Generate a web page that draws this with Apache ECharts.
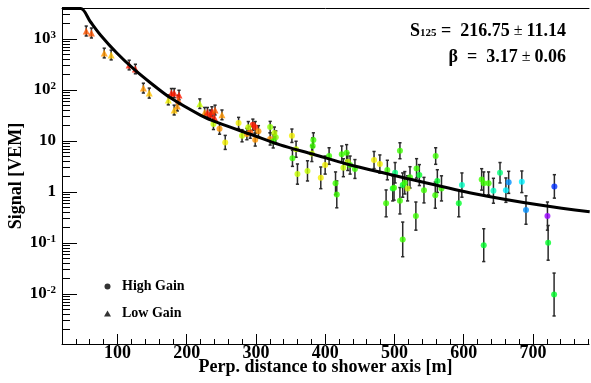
<!DOCTYPE html>
<html>
<head>
<meta charset="utf-8">
<script src="https://cdn.jsdelivr.net/npm/echarts@6/dist/echarts.min.js"></script>
<style>html,body{margin:0;padding:0;background:#fff}#c{width:591px;height:383px}</style>
</head>
<body>
<div id="c"></div>
<script>
// ---- data ----
const distance = [
  55, 62.5, 81, 91, 117, 126, 137.5, 146, 173.5, 178,
  182, 189, 188, 186.5, 182, 219, 226, 230, 236.5, 241,
  234, 240, 251, 238.7, 247.5, 255.7, 275, 280, 295.6, 299,
  303.7, 291.8, 289, 299, 287, 320.6, 326.7, 328.7, 320.6, 325,
  352, 358, 352.8, 360, 374.5, 380.8, 383, 382, 393.7, 400,
  405.7, 415, 416.8, 424, 426.3, 431, 432.7, 436, 443, 470.6,
  479, 489.8, 488, 508, 501, 497.6, 499.5, 508, 512, 515,
  519, 522.5, 532, 536, 531, 542.7, 559.6, 562, 559, 568,
  593, 597.5, 626, 629, 636, 643, 652.5, 661, 665, 684,
  690, 721, 731, 512, 629, 722, 730.6
];
const signal = [
  1435, 1312, 531, 486, 309, 258, 109, 87, 64, 87,
  87, 80, 64, 48.5, 40.5, 54, 36.5, 36.5, 38, 40.5,
  32.6, 29, 32.6, 21.5, 17.5, 9.4, 22.6, 12.7, 20.9, 18.6,
  15.5, 14.8, 18.6, 10.6, 13.7, 18.8, 14.3, 11.8, 11.0, 9.9,
  12.7, 6.9, 4.58, 2.25, 2.6, 5.7, 10.5, 8.0, 1.9, 3.38,
  5.08, 1.48, 0.90, 5.5, 3.0, 5.9, 3.93, 3.38, 2.83, 4.24,
  3.54, 2.7, 0.60, 6.45, 2.39, 1.18, 1.21, 0.675, 1.37, 1.52,
  1.18, 1.94, 2.91, 2.15, 0.338, 1.09, 5.08, 1.64, 0.87, 1.18,
  0.60, 1.37, 1.77, 1.48, 1.48, 1.06, 2.39, 1.09, 1.55, 1.59,
  0.444, 0.338, 1.29, 0.118, 0.091, 0.101, 0.0098
];
const sigma = [
  360, 330, 130, 120, 75, 62, 27, 22, 16, 20,
  20, 19, 15, 12, 10, 13, 9, 9, 9, 10,
  8, 7, 8, 6, 5, 3.5, 6.5, 4, 6, 5.5,
  4.5, 4.5, 5.5, 3.5, 4, 5.5, 4.5, 4, 3.5, 3.5,
  4.5, 3, 2, 1.3, 1.5, 2.5, 4, 3.5, 1.2, 1.7,
  2.3, 1.0, 0.75, 2.5, 1.5, 2.6, 1.9, 1.7, 1.5, 2,
  1.8, 1.5, 0.5, 2.8, 1.4, 0.9, 0.9, 0.55, 1.0, 1.0,
  0.9, 1.2, 1.6, 1.3, 0.3, 0.85, 2.3, 1.1, 0.7, 0.9,
  0.5, 1.0, 1.1, 1.0, 1.0, 0.8, 1.4, 0.8, 1.0, 1.0,
  0.4, 0.3, 0.9, 0.14, 0.1, 0.12, 0.016
];
// arrival order rank (colour scale, 0 = earliest / red ... 14 = latest / violet)
const arrivalRank = [
  1, 1, 2, 3, 0, 0, 2, 3, 4, 0,
  0, 0, 1, 2, 3, 5, 2, 0, 0, 1,
  0, 0, 2, 5, 2, 4, 4, 5, 0, 0,
  2, 1, 5, 2, 2, 6, 5, 6, 2, 7,
  4, 5, 7, 5, 5, 5, 7, 7, 4, 4,
  7, 7, 7, 7, 5, 7, 5, 7, 7, 4,
  4, 7, 7, 7, 9, 8, 7, 7, 8, 7,
  5, 7, 7, 8, 7, 7, 7, 8, 7, 7,
  8, 10, 7, 7, 7, 10, 9, 11, 12, 11,
  12, 14, 13, 7, 8, 8, 8
];
const gain = [
  'L','L','L','L','L','L','L','L','L','L',
  'L','L','L','L','L','L','L','L','L','L',
  'L','L','L','H','H','H','H','H','H','H',
  'H','H','H','H','H','H','H','H','H','H',
  'H','H','H','H','H','H','H','H','H','H',
  'H','H','H','H','H','H','H','H','H','H',
  'H','H','H','H','H','H','H','H','H','H',
  'H','H','H','H','H','H','H','H','H','H',
  'H','H','H','H','H','H','H','H','H','H',
  'H','H','H','H','H','H','H'
];
// fitted LDF curve
const curveR = [20, 47, 61, 75.5, 99.5, 123.5, 147.6, 176, 219.7, 245, 294, 335, 383, 431, 494, 518, 614, 710, 782];
const curveS = [3950, 3950, 2180, 1200, 525, 259, 139, 71, 32.3, 22.9, 13.3, 8.4, 5.5, 3.55, 2.2, 1.85, 0.94, 0.556, 0.41];
// axis ticks
const xMajorTicks = [100, 200, 300, 400, 500, 600, 700];
const xMinorTicks = [20,40,60,80,120,140,160,180,220,240,260,280,320,340,360,380,420,440,460,480,520,540,560,580,620,640,660,680,720,740,760,780];
const yMajorTicks = [0.01, 0.1, 1, 10, 100, 1000];
const yMinorTicks = [
  0.002,0.003,0.004,0.005,0.006,0.007,0.008,0.009,
  0.02,0.03,0.04,0.05,0.06,0.07,0.08,0.09,
  0.2,0.3,0.4,0.5,0.6,0.7,0.8,0.9,
  2,3,4,5,6,7,8,9,
  20,30,40,50,60,70,80,90,
  200,300,400,500,600,700,800,900,
  2000,3000,4000
];
const X_MIN = 20, X_MAX = 781, Y_MIN = 0.00105, Y_MAX = 4055;

const F = "'Liberation Serif','Times New Roman',serif";
const palette = ['#ff1a00','#ff5500','#ff9500','#ffc200','#f2f000','#c6ff00','#8cff00','#3cff00','#00ff2a','#00ff7a','#00ffc0','#00f0ff','#0090ff','#0030ff','#9900ff'];

const pts = distance.map((r, i) => [r, signal[i], arrivalRank[i], sigma[i], gain[i]]);
const highData = pts.filter(p => p[4] === 'H').map(p => [p[0], p[1], p[2]]);
const lowData = pts.filter(p => p[4] === 'L').map(p => [p[0], p[1], p[2]]);
const errData = pts.map(p => [p[0], p[1], p[3]]);
const curveData = curveR.map((r, i) => [r, curveS[i]]);

const chart = echarts.init(document.getElementById('c'), null, {renderer: 'canvas'});
const supRich = {
  b: {fontSize: 17, fontWeight: 'bold', fontFamily: F, color: '#000'},
  sup: {fontSize: 11, fontWeight: 'bold', fontFamily: F, color: '#000', padding: [0, 0, 8, 0]}
};
chart.setOption({
  animation: false,
  backgroundColor: '#fff',
  grid: {left: 62, top: 8, right: 2, bottom: 39, outerBoundsMode: 'none'},
  xAxis: [
    {
      type: 'value', min: X_MIN, max: X_MAX, position: 'bottom',
      axisLine: {show: true, onZero: false, lineStyle: {color: '#000', width: 1}},
      axisTick: {show: true, inside: true, length: 10, customValues: xMajorTicks, lineStyle: {color: '#000'}},
      axisLabel: {customValues: xMajorTicks, margin: 0, fontSize: 18, fontWeight: 'bold', fontFamily: F, color: '#000'},
      splitLine: {show: false},
      name: 'Perp. distance to shower axis [m]', nameLocation: 'middle', nameGap: 14, nameMoveOverlap: false,
      nameTextStyle: {fontSize: 18, fontWeight: 'bold', fontFamily: F, color: '#000'}
    },
    {
      type: 'value', min: X_MIN, max: X_MAX, position: 'bottom',
      axisLine: {show: false, onZero: false},
      axisTick: {show: true, inside: true, length: 5, customValues: xMinorTicks, lineStyle: {color: '#000'}},
      axisLabel: {show: false}, splitLine: {show: false}
    },
    {
      type: 'value', min: X_MIN, max: X_MAX, position: 'top',
      axisLine: {show: true, onZero: false, lineStyle: {color: '#000', width: 1}},
      axisTick: {show: false}, axisLabel: {show: false}, splitLine: {show: false}
    }
  ],
  yAxis: [
    {
      type: 'log', logBase: 10, min: Y_MIN, max: Y_MAX, position: 'left',
      axisLine: {show: true, onZero: false, lineStyle: {color: '#000', width: 1}},
      axisTick: {show: true, inside: true, length: 15, customValues: yMajorTicks, lineStyle: {color: '#000'}},
      axisLabel: {
        customValues: yMajorTicks, margin: 6,
        formatter: v => {
          const e = Math.round(Math.log10(v));
          if (e === 0) return '{b|1}';
          if (e === 1) return '{b|10}';
          return '{b|10}{sup|' + e + '}';
        },
        rich: supRich
      },
      splitLine: {show: false},
      name: 'Signal [VEM]', nameLocation: 'middle', nameGap: 37, nameMoveOverlap: false,
      nameTextStyle: {fontSize: 18, fontWeight: 'bold', fontFamily: F, color: '#000'}
    },
    {
      type: 'log', logBase: 10, min: Y_MIN, max: Y_MAX, position: 'left',
      axisLine: {show: false, onZero: false},
      axisTick: {show: true, inside: true, length: 8, customValues: yMinorTicks, lineStyle: {color: '#000'}},
      axisLabel: {show: false}, splitLine: {show: false}
    }
  ],
  visualMap: {
    show: false, type: 'continuous', min: 0, max: 14, dimension: 2, seriesIndex: [1, 2],
    inRange: {color: palette}
  },
  legend: {
    orient: 'vertical', left: 99, top: 274, itemWidth: 7, itemHeight: 6, itemGap: 12,
    selectedMode: false,
    textStyle: {fontSize: 14, fontWeight: 'bold', fontFamily: F, color: '#000', lineHeight: 15, padding: [0, 0, 0, 6]},
    data: [
      {name: 'High Gain', icon: 'circle', itemStyle: {color: '#000'}},
      {name: 'Low Gain', icon: 'triangle', itemStyle: {color: '#000'}}
    ]
  },
  series: [
    {
      type: 'custom', name: 'errors', xAxisIndex: 0, yAxisIndex: 0, clip: true, z: 1,
      data: errData,
      renderItem: (params, api) => {
        const r = api.value(0), s = api.value(1), e = api.value(2);
        const hi = s + e, lo = s / (1 + e / s);
        const t = api.coord([r, hi]), b = api.coord([r, lo]);
        const cap = 1.6, st = {stroke: '#2a2a2a', lineWidth: 1.5};
        return {type: 'group', children: [
          {type: 'line', shape: {x1: t[0], y1: t[1], x2: b[0], y2: b[1]}, style: st},
          {type: 'line', shape: {x1: t[0] - cap, y1: t[1], x2: t[0] + cap, y2: t[1]}, style: st},
          {type: 'line', shape: {x1: b[0] - cap, y1: b[1], x2: b[0] + cap, y2: b[1]}, style: st}
        ]};
      }
    },
    {
      type: 'scatter', name: 'High Gain', xAxisIndex: 0, yAxisIndex: 0, z: 2,
      symbol: 'circle', symbolSize: 6, data: highData
    },
    {
      type: 'scatter', name: 'Low Gain', xAxisIndex: 0, yAxisIndex: 0, z: 2,
      symbol: 'triangle', symbolSize: 7, data: lowData
    },
    {
      type: 'line', name: 'LDF fit', xAxisIndex: 0, yAxisIndex: 0, z: 3,
      data: curveData, showSymbol: false, smooth: 0.3, clip: true,
      lineStyle: {color: '#000', width: 3}
    }
  ],
  graphic: [
    {
      type: 'text', x: 566, y: 33,
      style: {
        text: '{s|S}{sub|125}{s| =  216.75}{pm| ± }{s|11.14}',
        align: 'right', verticalAlign: 'middle',
        rich: {
          s: {fontSize: 18, fontWeight: 'bold', fontFamily: F, fill: '#000', padding: [0, 0, 4, 0]},
          sub: {fontSize: 11, fontWeight: 'bold', fontFamily: F, fill: '#000'},
          pm: {fontSize: 16, fontWeight: 'normal', fontFamily: F, fill: '#000', padding: [0, 0, 4, 0]}
        }
      }
    },
    {
      type: 'text', x: 566, y: 57,
      style: {
        text: '{s|β  =  3.17}{pm| ± }{s|0.06}',
        align: 'right', verticalAlign: 'middle',
        rich: {
          s: {fontSize: 18, fontWeight: 'bold', fontFamily: F, fill: '#000'},
          pm: {fontSize: 16, fontWeight: 'normal', fontFamily: F, fill: '#000'}
        }
      }
    }
  ]
});
</script>
</body>
</html>
